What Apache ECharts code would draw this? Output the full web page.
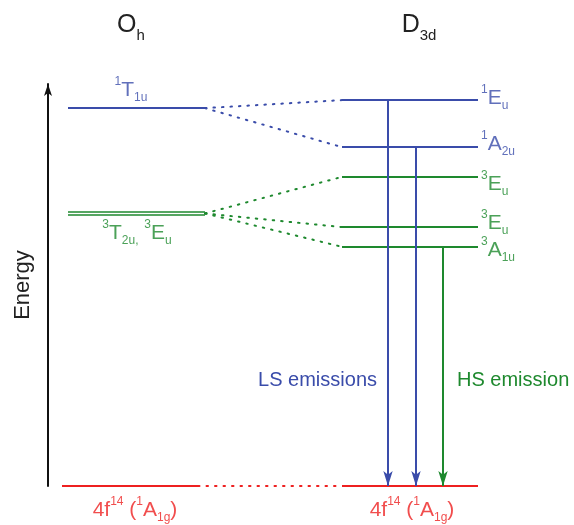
<!DOCTYPE html>
<html><head><meta charset="utf-8">
<script src="https://cdn.jsdelivr.net/npm/echarts@6/dist/echarts.min.js"></script>
<style>html,body{margin:0;padding:0;background:#fff}#c{width:574px;height:525px}</style>
</head><body><div id="c"></div>
<script>
// ---------------- data ----------------
const ohStates = ['1T1u', '3T2u', '3Eu'];
const ohEnergies = [94.0, 68.2, 67.4];
const ohSpins = ['singlet', 'triplet', 'triplet'];
const d3dStates = ['1Eu', '1A2u', '3Eu', '3Eu', '3A1u'];
const d3dEnergies = [96.0, 84.3, 76.9, 64.4, 59.5];
const d3dSpins = ['singlet', 'singlet', 'triplet', 'triplet', 'triplet'];
const groundState = '4f14 (1A1g)';
const groundEnergy = 0;
// which Oh term (0 = 1T1u, 1 = 3T2u/3Eu pair) each D3d level comes from
const correlationFrom = [0, 0, 1, 1, 1];
// D3d levels that emit down to the ground state
const emissionFrom = [0, 1, 4];
const emissionTexts = ['LS emissions', 'HS emission'];
const columnTitles = ['{m|O}{s|h}', '{m|D}{s|3d}'];

// rich-text versions of the term symbols
const ohLabelTexts = ['{sup|1}{m|T}{sub|1u}', '{sup|3}{m|T}{sub|2u,}{m| }{sup|3}{m|E}{sub|u}'];
const d3dLabelTexts = ['{sup|1}{m|E}{sub|u}', '{sup|1}{m|A}{sub|2u}', '{sup|3}{m|E}{sub|u}', '{sup|3}{m|E}{sub|u}', '{sup|3}{m|A}{sub|1u}'];
const groundLabelText = '{m|4f}{sup|14}{m| (}{sup|1}{m|A}{sub|1g}{m|)}';

// ---------------- layout / style ----------------
const FF = 'Liberation Sans, Arial, Helvetica, sans-serif';
const COL = { singlet: '#3a4caa', triplet: '#1e892e', ground: '#ee2020', axis: '#111111', text: '#222222' };
const LAY = {
  ohX: [20, 157], d3dX: [294, 430], groundLeftX: [14, 150],
  arrowX: [340, 368, 395],
  ohLabelX: [83, 89], groundLabelX: [87, 364],
  d3dLabelDy: [-2, -3, 7, -4, 3]
};
function rich(size, small, lh, slh) {
  return {
    m: { fontSize: size, lineHeight: lh, fontFamily: FF },
    sup: { fontSize: small, lineHeight: small, verticalAlign: 'top', fontFamily: FF },
    sub: { fontSize: small, lineHeight: small, verticalAlign: 'bottom', fontFamily: FF },
    s: { fontSize: small, lineHeight: slh || small, verticalAlign: 'bottom', fontFamily: FF }
  };
}

// ---------------- build series data ----------------
const levelData = [];
ohEnergies.forEach((e, i) => levelData.push({
  name: ohStates[i], coords: [[LAY.ohX[0], e], [LAY.ohX[1], e]],
  lineStyle: { color: COL[ohSpins[i]], width: ohSpins[i] === 'triplet' ? 1.6 : 2 }
}));
d3dEnergies.forEach((e, i) => levelData.push({
  name: d3dStates[i], coords: [[LAY.d3dX[0], e], [LAY.d3dX[1], e]],
  lineStyle: { color: COL[d3dSpins[i]], width: 2 }
}));
levelData.push({ name: groundState, coords: [[LAY.groundLeftX[0], groundEnergy], [LAY.groundLeftX[1], groundEnergy]], lineStyle: { color: COL.ground, width: 2 } });
levelData.push({ name: groundState, coords: [[LAY.d3dX[0], groundEnergy], [LAY.d3dX[1], groundEnergy]], lineStyle: { color: COL.ground, width: 2 } });

const ohTermEnergy = [ohEnergies[0], (ohEnergies[1] + ohEnergies[2]) / 2];
const connData = d3dEnergies.map((e, j) => ({
  coords: [[LAY.ohX[1], ohTermEnergy[correlationFrom[j]]], [LAY.d3dX[0], e]],
  lineStyle: { color: COL[d3dSpins[j]] }
}));
connData.push({ coords: [[LAY.groundLeftX[1], groundEnergy], [LAY.d3dX[0], groundEnergy]], lineStyle: { color: COL.ground } });

const arrowData = emissionFrom.map((lv, k) => ({
  coords: [[LAY.arrowX[k], d3dEnergies[lv]], [LAY.arrowX[k], groundEnergy]],
  lineStyle: { color: COL[d3dSpins[lv]] },
  itemStyle: { color: COL[d3dSpins[lv]] }
}));

const labelData = [];
labelData.push({ value: [LAY.ohLabelX[0], ohEnergies[0]], label: { formatter: ohLabelTexts[0], position: 'top', distance: 4, color: COL[ohSpins[0]] } });
labelData.push({ value: [LAY.ohLabelX[1], ohEnergies[2]], label: { formatter: ohLabelTexts[1], position: 'bottom', distance: 4, color: COL[ohSpins[2]] } });
d3dEnergies.forEach((e, i) => labelData.push({
  value: [LAY.d3dX[1], e],
  label: { formatter: d3dLabelTexts[i], position: 'right', distance: 3, offset: [0, LAY.d3dLabelDy[i]], color: COL[d3dSpins[i]] }
}));
LAY.groundLabelX.forEach(x => labelData.push({
  value: [x, groundEnergy], label: { formatter: groundLabelText, position: 'bottom', distance: 10, color: COL.ground }
}));

// ---------------- chart ----------------
const chart = echarts.init(document.getElementById('c'), null, { renderer: 'canvas' });
chart.setOption({
  animation: false,
  backgroundColor: '#ffffff',
  textStyle: { fontFamily: FF },
  grid: { left: 48, right: 0, top: 84, bottom: 39, containLabel: false, outerBoundsMode: 'none' },
  xAxis: { type: 'value', min: 0, max: 526, show: false },
  yAxis: {
    type: 'value', min: 0, max: 100,
    name: 'Energy', nameLocation: 'middle', nameGap: 14, nameRotate: 90,
    nameTextStyle: { fontSize: 22, color: COL.text, fontFamily: FF },
    axisLine: { show: true, symbol: ['none', 'arrow'], symbolSize: [6, 12], lineStyle: { color: COL.axis, width: 2 } },
    axisTick: { show: false }, axisLabel: { show: false }, splitLine: { show: false }
  },
  graphic: [
    { type: 'text', x: 131, y: 25, style: { text: columnTitles[0], align: 'center', verticalAlign: 'middle', fill: COL.text, rich: rich(25, 15, 36, 10) } },
    { type: 'text', x: 419, y: 25, style: { text: columnTitles[1], align: 'center', verticalAlign: 'middle', fill: COL.text, rich: rich(25, 15, 36, 10) } },
    { type: 'text', x: 377, y: 380, style: { text: emissionTexts[0], align: 'right', verticalAlign: 'middle', fill: COL.singlet, fontSize: 20, fontFamily: FF } },
    { type: 'text', x: 457, y: 380, style: { text: emissionTexts[1], align: 'left', verticalAlign: 'middle', fill: COL.triplet, fontSize: 20, fontFamily: FF } }
  ],
  series: [
    { type: 'lines', coordinateSystem: 'cartesian2d', polyline: false, silent: true, z: 3,
      lineStyle: { width: 2, opacity: 1, type: [1.5, 7], cap: 'round' }, symbol: 'none', data: connData },
    { type: 'lines', coordinateSystem: 'cartesian2d', polyline: false, silent: true, z: 4,
      lineStyle: { width: 2, opacity: 1 }, symbol: 'none', data: levelData },
    { type: 'lines', coordinateSystem: 'cartesian2d', polyline: false, silent: true, z: 5,
      lineStyle: { width: 2, opacity: 1 }, symbol: ['none', 'arrow'], symbolSize: [[7, 15], [7, 15]], symbolOffset: [0, 7.5], data: arrowData },
    { type: 'scatter', symbolSize: 0, silent: true, clip: false, z: 6,
      label: { show: true, rich: rich(21, 12, 28), fontFamily: FF }, data: labelData }
  ]
});
</script></body></html>
